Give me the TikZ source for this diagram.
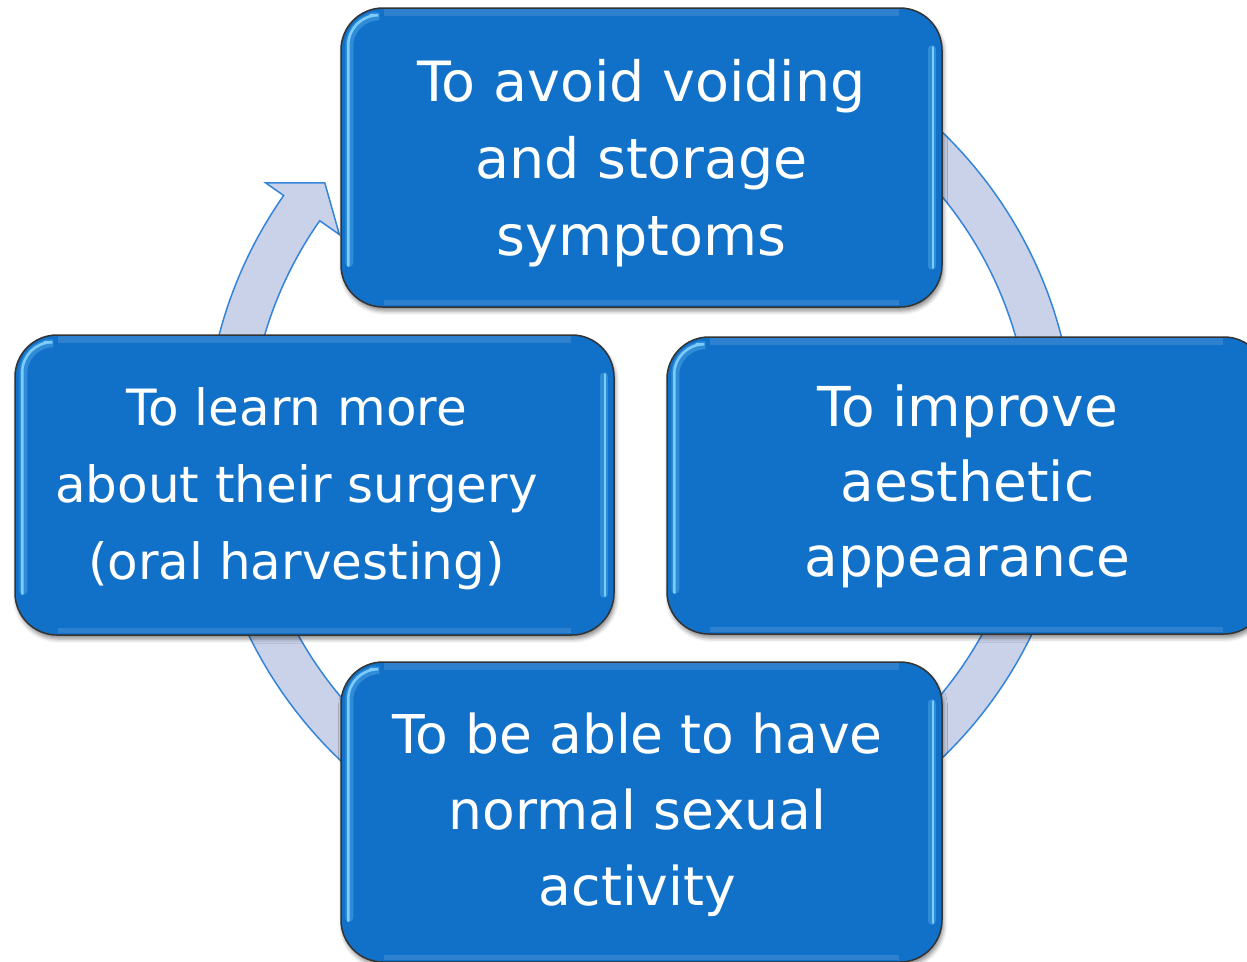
\documentclass[tikz,border=0pt]{standalone}
\usepackage{fontspec}
\setmainfont{DejaVu Sans}
\usetikzlibrary{shadows.blur}
\definecolor{boxblue}{RGB}{17,112,200}
\definecolor{ringfill}{RGB}{201,210,233}
\definecolor{ringline}{RGB}{52,132,218}
\definecolor{hilite}{RGB}{125,205,252}
\begin{document}
\begin{tikzpicture}[x=1pt,y=-1pt,
  boxshape/.style={rectangle, rounded corners=42pt, fill=boxblue, draw=black!80,
    line width=1.5pt, inner sep=0pt,
    blur shadow={shadow xshift=1.5pt, shadow yshift=-4pt, shadow blur radius=4pt, shadow opacity=45}},
  hiline/.style={hilite, line width=2.5pt, line cap=round},
  higlow/.style={hilite, line width=8pt, line cap=round, opacity=0.3},
  txt/.style={text=white, align=center, inner sep=0pt}]
\useasboundingbox (0,0) rectangle (1247,961);
% ring arrow
\coordinate (c) at (640,445);
\filldraw[fill=ringfill, draw=ringline, line width=1.5pt, line join=miter]
  ([shift={(230:435)}]c) arc[start angle=230, end angle=575, radius=435]
  -- ([shift={(575:457)}]c) -- ([shift={(579.75:410)}]c) -- ([shift={(575:367)}]c)
  -- ([shift={(575:391)}]c) arc[start angle=575, end angle=230, radius=391] -- cycle;
% boxes
\node[boxshape, minimum width=601pt, minimum height=299pt] (top) at (641.5,157.5) {};
\node[boxshape, minimum width=599pt, minimum height=300pt] (left) at (314.5,485) {};
\node[boxshape, minimum width=599pt, minimum height=297pt] (right) at (966.5,485.5) {};
\node[boxshape, minimum width=601pt, minimum height=300pt] (bottom) at (641.5,812) {};
% highlights
\foreach \b in {top,left,right,bottom}{
  \draw[higlow, rounded corners=30pt] ([xshift=9pt,yshift=45pt]\b.south west)
     -- ([xshift=9pt,yshift=-9pt]\b.north west) -- ([xshift=32pt,yshift=-9pt]\b.north west);
  \draw[hiline, rounded corners=30pt] ([xshift=8pt,yshift=42pt]\b.south west)
     -- ([xshift=8pt,yshift=-8pt]\b.north west) -- ([xshift=30pt,yshift=-8pt]\b.north west);
  \draw[higlow] ([xshift=-11pt,yshift=-42pt]\b.north east) -- ([xshift=-11pt,yshift=42pt]\b.south east);
  \draw[hiline] ([xshift=-10pt,yshift=-40pt]\b.north east) -- ([xshift=-10pt,yshift=40pt]\b.south east);
  \draw[white, opacity=0.12, line width=7pt] ([xshift=44pt,yshift=-5pt]\b.north west) -- ([xshift=-44pt,yshift=-5pt]\b.north east);
  \draw[white, opacity=0.12, line width=5pt] ([xshift=44pt,yshift=5pt]\b.south west) -- ([xshift=-44pt,yshift=5pt]\b.south east);
}
% texts
\node[txt, font=\fontsize{55.5}{77}\selectfont] (ttop) at ([yshift=-6pt]top.center) {To avoid voiding\\and storage\\symptoms};
\node[txt, font=\fontsize{50}{77}\selectfont] (tleft) at ([xshift=-18pt,yshift=-4pt]left.center) {To learn more\\about their surgery\\(oral harvesting)};
\node[txt, font=\fontsize{55}{75}\selectfont] (tright) at ([xshift=1pt,yshift=-1pt]right.center) {To improve\\aesthetic\\appearance};
\node[txt, font=\fontsize{53.5}{76}\selectfont] (tbottom) at ([xshift=-4pt,yshift=-3pt]bottom.center) {To be able to have\\normal sexual\\activity};
\end{tikzpicture}
\end{document}
